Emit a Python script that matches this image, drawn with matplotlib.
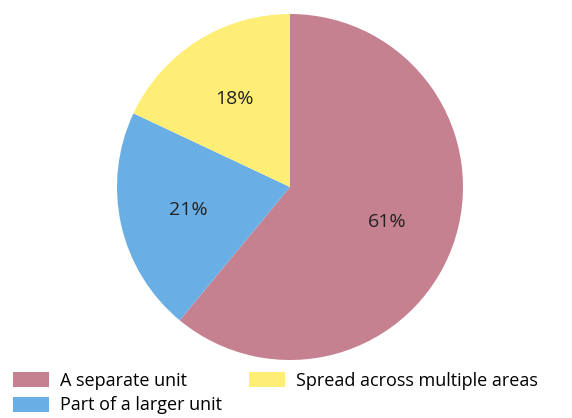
import matplotlib
matplotlib.use('Agg')
from matplotlib import pyplot as plt

#----------------------------------
# Chart data
categories = ['A separate unit', 'Part of a larger unit', 'Spread across multiple areas']
shares = [61, 21, 18]
colors = ['#C58190', '#6AAEE6', '#FFEE75']

plt.rcParams['font.family'] = ['Open Sans', 'DejaVu Sans']

#----------------------------------
# Pie with legend underneath
fig = plt.figure(figsize=(5.72, 4.18), dpi=100)
ax = fig.add_axes([117 / 572, 58 / 418, 346 / 572, 346 / 418])
wedges, texts, autotexts = ax.pie(shares, colors=colors, startangle=90, counterclock=False,
                                  autopct='%d%%', pctdistance=0.6,
                                  textprops={'fontsize': 14, 'color': '#222222'})
ax.set_xlim(-1, 1)
ax.set_ylim(-1, 1)
ax.set_aspect('equal')

fig.legend(wedges, categories, ncol=2, loc='upper left', bbox_to_anchor=(0.0, 0.14),
           frameon=False, fontsize=13, handlelength=2.0, handleheight=0.9,
           columnspacing=1.5, handletextpad=0.6, labelspacing=0.35, borderpad=0.2)

fig.savefig('out.png', dpi=100)
